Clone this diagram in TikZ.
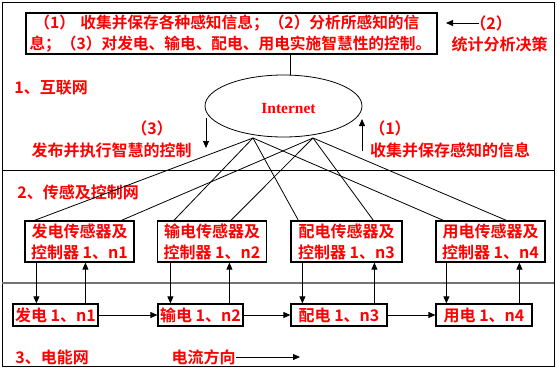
\documentclass[tikz,border=0pt]{standalone}
\usepackage{fontspec}
\setmainfont{Noto Sans CJK SC}[BoldFont={Noto Sans CJK SC Bold}]
\newfontfamily\serifen{Liberation Serif}
\usetikzlibrary{shapes.geometric,arrows.meta}

\tikzset{
  redlbl/.style={text=red, font=\fontsize{16}{21}\selectfont\bfseries, inner sep=0pt},
  ctrlbox/.style={draw, line width=1.2pt, redlbl, align=center},
  tip/.style={-{Triangle[length=7pt,width=6pt]}},
}

\begin{document}
\begin{tikzpicture}[x=1pt,y=-1pt,line width=0.8pt]
\useasboundingbox (0,0) rectangle (557,368);

% 外框与分隔线
\draw (2,2) rectangle (554,366);
\draw (2,170) -- (554,170);
\draw[black!55, line width=1.6pt] (2,283) -- (554,283);

% 顶部说明
\node[ctrlbox, line width=1.5pt, minimum width=411, minimum height=41, text width=404, align=left,
  font=\fontsize{15.7}{21}\selectfont\bfseries] (tbox) at (231.5,33.5)
  {\hspace*{5pt}（1） 收集并保存各种感知信息；（2）分析所感知的信\\息；（3）对发电、输电、配电、用电实施智慧性的控制。};

% 统计分析决策
\node[redlbl, anchor=west] (lbl2) at (470,23) {（2）};
\coordinate (tip2) at (446,23);
\draw[tip] ([xshift=9pt]lbl2.west) -- (tip2);
\node[redlbl] (stat) at (499.5,44) {统计分析决策};

% 1、互联网
\node[redlbl, anchor=west] (net1) at (14,88) {1、互联网};
\node[draw, ellipse, minimum width=157, minimum height=62, inner sep=0pt] (inet) at (283.5,106) {};
\node[text=red, inner sep=0pt, font=\serifen\fontsize{15.5}{18}\selectfont\bfseries] (inettxt) at (288.5,108) {Internet};
\coordinate (vtop) at (290,75.2);
\draw (vtop |- tbox.south) -- (vtop);

% 发布控制 / 收集信息
\node[redlbl] (lbl3) at (152,128) {（3）};
\node[redlbl] (pub) at (111.5,150) {发布并执行智慧的控制};
\coordinate (c3a) at (206,118);
\coordinate (c3b) at (206,148);
\draw[tip] (c3a) -- (c3b);
\node[redlbl] (lbl1) at (390,128) {（1）};
\node[redlbl] (col) at (450,150) {收集并保存感知的信息};
\coordinate (c1a) at (362,151);
\coordinate (c1b) at (362,119);
\draw[tip] (c1a) -- (c1b);

% 2、传感及控制网
\node[redlbl, anchor=west] (net2) at (17,192) {2、传感及控制网};
\node[ctrlbox, minimum width=109, minimum height=41] (s1) at (79.5,241.5) {发电传感器及\\控制器 1、n1};
\node[ctrlbox, minimum width=109, minimum height=41] (s2) at (212,241.5) {输电传感器及\\控制器 1、n2};
\node[ctrlbox, minimum width=111, minimum height=41] (s3) at (346.5,241.5) {配电传感器及\\控制器 1、n3};
\node[ctrlbox, minimum width=109, minimum height=41] (s4) at (490.5,241.5) {用电传感器及\\控制器 1、n4};

% 互联网到传感器
\coordinate (il) at (253,138);
\coordinate (ir) at (313,138);
\draw (il) -- ([xshift=10pt]s1.north west);
\draw (il) -- ([xshift=17pt]s2.north west);
\draw (il) -- ([xshift=8pt]s3.north west);
\draw (il) -- ([xshift=8pt]s4.north west);
\draw (ir) -- ([xshift=97pt]s1.north west);
\draw (ir) -- ([xshift=74pt]s2.north west);
\draw (ir) -- ([xshift=83pt]s3.north west);
\draw (ir) -- ([xshift=71pt]s4.north west);

% 3、电能网
\node[ctrlbox, minimum width=85, minimum height=22, inner sep=0pt] (b1) at (55.5,315) {发电 1、n1};
\node[ctrlbox, minimum width=85, minimum height=22, inner sep=0pt] (b2) at (200.5,315) {输电 1、n2};
\node[ctrlbox, minimum width=96, minimum height=22, inner sep=0pt] (b3) at (339,315) {配电 1、n3};
\node[ctrlbox, minimum width=96, minimum height=22, inner sep=0pt] (b4) at (484,315) {用电 1、n4};
\draw[tip] (b1) -- (b2);
\draw[tip] (b2) -- (b3);
\draw[tip] (b3) -- (b4);

% 传感器与电能网之间
\draw[tip] ([xshift=12pt]s1.south west) -- ([xshift=12pt]s1.south west |- b1.north);
\draw[tip] ([xshift=61pt]s1.south west |- b1.north) -- ([xshift=61pt]s1.south west);
\draw[tip] ([xshift=13.5pt]s2.south west) -- ([xshift=13.5pt]s2.south west |- b2.north);
\draw[tip] ([xshift=72.5pt]s2.south west |- b2.north) -- ([xshift=72.5pt]s2.south west);
\draw[tip] ([xshift=12pt]s3.south west) -- ([xshift=12pt]s3.south west |- b3.north);
\draw[tip] ([xshift=84pt]s3.south west |- b3.north) -- ([xshift=84pt]s3.south west);
\draw[tip] ([xshift=11pt]s4.south west) -- ([xshift=11pt]s4.south west |- b4.north);
\draw[tip] ([xshift=84pt]s4.south west |- b4.north) -- ([xshift=84pt]s4.south west);

\node[redlbl, anchor=west] (net3) at (15,357) {3、电能网};
\node[redlbl] (flow) at (203.5,357) {电流方向};
\coordinate (flowend) at (300,357);
\draw[tip] (flow.east) -- (flowend);

\end{tikzpicture}
\end{document}
